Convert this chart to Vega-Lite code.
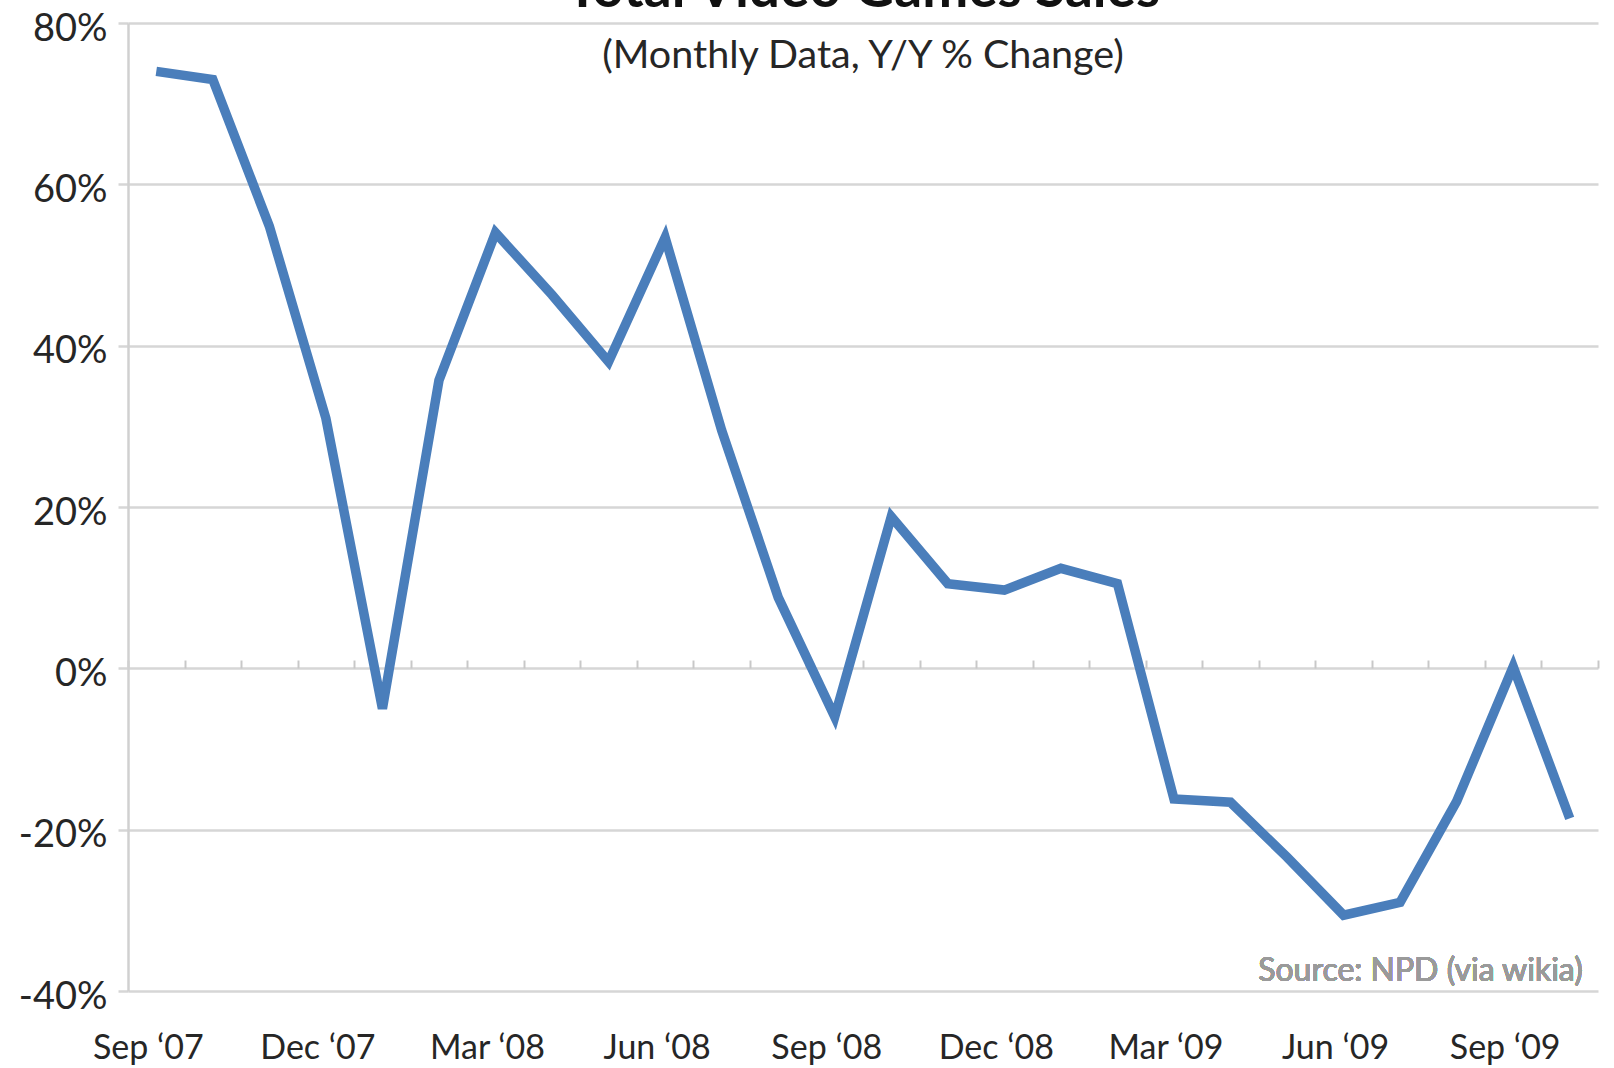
{
  "$schema": "https://vega.github.io/schema/vega-lite/v6.json",
  "width": 1470,
  "height": 968,
  "autosize": {"type": "none"},
  "padding": {"left": 128, "top": 23, "right": 16, "bottom": 77},
  "background": "white",
  "title": {
    "text": "Total Video Games Sales",
    "subtitle": "(Monthly Data, Y/Y % Change)",
    "anchor": "middle",
    "font": "Lato",
    "fontSize": 55,
    "fontWeight": "bold",
    "color": "#111111",
    "subtitleFont": "Lato",
    "subtitleFontSize": 39.5,
    "subtitleColor": "#262626",
    "offset": -66,
    "subtitlePadding": 18
  },
  "config": {"view": {"stroke": null}, "font": "Lato"},
  "data": {
    "values": [
      {"month": "Sep ‘07", "change": 74.0},
      {"month": "Oct ‘07", "change": 73.0},
      {"month": "Nov ‘07", "change": 54.8},
      {"month": "Dec ‘07", "change": 31.0},
      {"month": "Jan ‘08", "change": -5.0},
      {"month": "Feb ‘08", "change": 35.7},
      {"month": "Mar ‘08", "change": 54.0},
      {"month": "Apr ‘08", "change": 46.3},
      {"month": "May ‘08", "change": 38.0},
      {"month": "Jun ‘08", "change": 53.4},
      {"month": "Jul ‘08", "change": 29.5},
      {"month": "Aug ‘08", "change": 8.8},
      {"month": "Sep ‘08", "change": -6.0},
      {"month": "Oct ‘08", "change": 18.8},
      {"month": "Nov ‘08", "change": 10.5},
      {"month": "Dec ‘08", "change": 9.7},
      {"month": "Jan ‘09", "change": 12.4},
      {"month": "Feb ‘09", "change": 10.5},
      {"month": "Mar ‘09", "change": -16.2},
      {"month": "Apr ‘09", "change": -16.6},
      {"month": "May ‘09", "change": -23.4},
      {"month": "Jun ‘09", "change": -30.6},
      {"month": "Jul ‘09", "change": -29.0},
      {"month": "Aug ‘09", "change": -16.5},
      {"month": "Sep ‘09", "change": 0.2},
      {"month": "Oct ‘09", "change": -18.6}
    ]
  },
  "layer": [
    {
      "mark": {"type": "line", "color": "#4A7EBB", "strokeWidth": 9.5, "strokeJoin": "miter"},
      "encoding": {
        "x": {
          "field": "month",
          "type": "ordinal",
          "sort": null,
          "scale": {
            "type": "band",
            "paddingInner": 0,
            "paddingOuter": 0,
            "domain": ["Sep ‘07","Oct ‘07","Nov ‘07","Dec ‘07","Jan ‘08","Feb ‘08","Mar ‘08","Apr ‘08","May ‘08","Jun ‘08","Jul ‘08","Aug ‘08","Sep ‘08","Oct ‘08","Nov ‘08","Dec ‘08","Jan ‘09","Feb ‘09","Mar ‘09","Apr ‘09","May ‘09","Jun ‘09","Jul ‘09","Aug ‘09","Sep ‘09","Oct ‘09"]
          },
          "axis": {
            "title": null,
            "values": ["Sep ‘07","Dec ‘07","Mar ‘08","Jun ‘08","Sep ‘08","Dec ‘08","Mar ‘09","Jun ‘09","Sep ‘09"],
            "ticks": false,
            "domain": false,
            "grid": false,
            "labelFont": "Lato",
            "labelFontSize": 34,
            "labelColor": "#262626",
            "labelPadding": 40,
            "labelAngle": 0,
            "labelOffset": -8
          }
        },
        "y": {
          "field": "change",
          "type": "quantitative",
          "scale": {"domain": [-40, 80], "nice": false, "zero": false},
          "axis": {
            "title": null,
            "values": [-40, -20, 0, 20, 40, 60, 80],
            "labelExpr": "datum.value + '%'",
            "grid": true,
            "gridColor": "#d6d6d6",
            "gridWidth": 2.5,
            "domainColor": "#d0d0d0",
            "domainWidth": 2.5,
            "tickColor": "#d6d6d6",
            "tickWidth": 2.5,
            "tickSize": 10,
            "labelFont": "Lato",
            "labelFontSize": 38,
            "labelColor": "#262626",
            "labelPadding": 11,
            "labelOffset": 6
          }
        }
      }
    },
    {
      "mark": {"type": "text", "align": "right", "baseline": "middle", "fontSize": 32, "font": "Lato", "fontWeight": "normal", "color": "#9a9a9a", "dx": 13},
      "encoding": {
        "x": {
          "datum": "Oct ‘09",
          "type": "ordinal",
          "axis": {
            "title": null,
            "labels": false,
            "ticks": true,
            "tickBand": "extent",
            "tickSize": 8,
            "tickColor": "#c8c8c8",
            "tickWidth": 2,
            "domain": false,
            "grid": false,
            "offset": -645
          }
        },
        "y": {"datum": -37.5, "type": "quantitative"},
        "text": {"value": "Source: NPD (via wikia)"}
      }
    }
  ],
  "resolve": {"axis": {"x": "independent"}}
}
